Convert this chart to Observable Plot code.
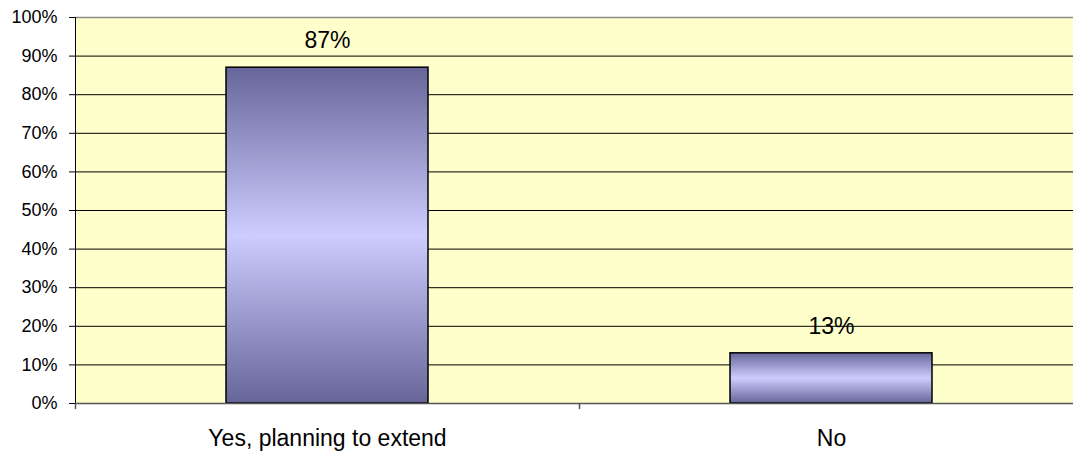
<!DOCTYPE html>
<html>
<head>
<meta charset="utf-8">
<script src="https://cdn.jsdelivr.net/npm/d3@7"></script>
<script src="https://cdn.jsdelivr.net/npm/@observablehq/plot@0.6"></script>
<style>
  html, body { margin: 0; padding: 0; background: #ffffff; overflow: hidden; }
  #chart svg { max-width: none; display: block; }
</style>
</head>
<body>
<div id="chart"></div>
<script>
// Survey answers and their shares (percent)
const categories = ["Yes, planning to extend", "No"];
const values = [87, 13];
const yTicks = [0, 10, 20, 30, 40, 50, 60, 70, 80, 90, 100];

const rows = categories.map((c, i) => ({ category: c, index: i, value: values[i] }));
const boundaries = d3.range(categories.length + 1);
const fontFamily = "'Liberation Sans', Arial, sans-serif";

const chart = Plot.plot({
  width: 1083,
  height: 453,
  marginLeft: 75,
  marginRight: 0,
  marginTop: 17,
  marginBottom: 50,
  style: { fontFamily, fontSize: "18px", color: "#000", background: "#ffffff" },
  x: { type: "linear", domain: [0, categories.length], axis: null },
  y: { type: "linear", domain: [0, 100], axis: null },
  marks: [
    // plot area background
    Plot.frame({ fill: "#ffffcc", stroke: "none" }),
    // horizontal gridlines
    Plot.ruleY(yTicks.filter(t => t > 0 && t < 100), { stroke: "#000", strokeWidth: 1 }),
    // top border
    Plot.ruleY([100], { stroke: "#8c8c8c", strokeWidth: 1.5 }),
    // bars with vertical shading
    Plot.rectY(rows, {
      x1: "index",
      x2: d => d.index + 1,
      y1: 0,
      y2: "value",
      insetLeft: 151,
      insetRight: 151,
      fill: "url(#barShade)",
      stroke: "#000",
      strokeWidth: 1.5
    }),
    // value labels
    Plot.text(rows, {
      x: d => d.index + 0.5,
      y: "value",
      text: d => `${d.value}%`,
      lineAnchor: "middle",
      dy: -27,
      fontSize: 23,
      fill: "#000"
    }),
    // y axis line, ticks and labels
    Plot.ruleX([0], { stroke: "#000", strokeWidth: 1 }),
    Plot.axisY(yTicks, {
      tickSize: 6,
      tickPadding: 12,
      tickFormat: d => `${d}%`,
      fontSize: 18,
      stroke: "#000",
      strokeOpacity: 1,
      label: null
    }),
    // x axis line, category boundary ticks and labels
    Plot.ruleY([0], { stroke: "#555", strokeWidth: 1.5 }),
    Plot.axisX(boundaries, {
      tickSize: 6,
      tickFormat: () => "",
      stroke: "#555",
      strokeOpacity: 1,
      strokeWidth: 1.5,
      label: null
    }),
    Plot.text(rows, {
      x: d => d.index + 0.5,
      y: 0,
      text: "category",
      lineAnchor: "middle",
      dy: 35,
      fontSize: 23,
      fill: "#000"
    })
  ]
});

// vertical gradient used for the bars: dark at the ends, light in the middle
const ns = "http://www.w3.org/2000/svg";
const defs = document.createElementNS(ns, "defs");
const grad = document.createElementNS(ns, "linearGradient");
grad.setAttribute("id", "barShade");
grad.setAttribute("x1", "0"); grad.setAttribute("y1", "0");
grad.setAttribute("x2", "0"); grad.setAttribute("y2", "1");
[["0%", "#66669a"], ["50%", "#ccccff"], ["100%", "#66669a"]].forEach(([o, c]) => {
  const s = document.createElementNS(ns, "stop");
  s.setAttribute("offset", o);
  s.setAttribute("stop-color", c);
  grad.appendChild(s);
});
defs.appendChild(grad);
chart.insertBefore(defs, chart.firstChild);

document.getElementById("chart").appendChild(chart);
</script>
</body>
</html>
